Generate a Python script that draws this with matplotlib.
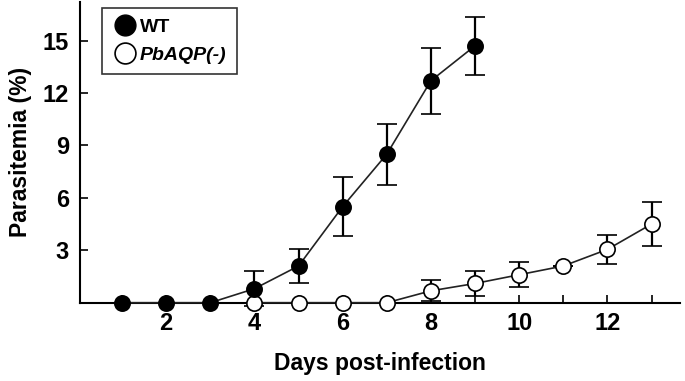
import matplotlib
matplotlib.use("Agg")
import matplotlib.pyplot as plt
from matplotlib.lines import Line2D

plt.rcParams["font.family"] = ["Liberation Sans", "DejaVu Sans"]

# Parasitemia (%) over days post-infection, mean and error
wt_days = [1, 2, 3, 4, 5, 6, 7, 8, 9]
wt_mean = [0, 0, 0, 0.8, 2.1, 5.5, 8.5, 12.7, 14.7]
wt_err = [0, 0, 0, 1.0, 0.95, 1.7, 1.75, 1.9, 1.65]

ko_days = [4, 5, 6, 7, 8, 9, 10, 11, 12, 13]
ko_mean = [0, 0, 0, 0, 0.68, 1.1, 1.6, 2.1, 3.05, 4.5]
ko_err = [0, 0, 0, 0, 0.6, 0.72, 0.72, 0, 0.85, 1.25]

xticks_major = [2, 4, 6, 8, 10, 12]
xticks_all = list(range(1, 14))
yticks = [3, 6, 9, 12, 15]

fig = plt.figure(figsize=(6.85, 3.81), dpi=100)
ax = fig.add_axes([0.117, 0.2055, 0.876, 0.789])

line_kw = dict(color="#222222", lw=1.2, capsize=7, elinewidth=1.6,
               capthick=1.6, ecolor="black", ms=11, mew=1.2, mec="black",
               clip_on=False, zorder=3)
ax.errorbar(ko_days, ko_mean, yerr=ko_err, fmt="-o", mfc="white", **line_kw)
ax.errorbar(wt_days, wt_mean, yerr=wt_err, fmt="-o", mfc="black", **line_kw)

ax.set_xlim(0.05, 13.65)
ax.set_ylim(0, 17.2)
ax.set_xticks(xticks_all)
ax.set_xticklabels([str(d) if d in xticks_major else "" for d in xticks_all])
ax.set_yticks(yticks)
ax.tick_params(direction="in", length=6, width=1.2, labelsize=17)
ax.tick_params(axis="x", pad=7)
ax.tick_params(axis="y", pad=8)
for lbl in ax.get_xticklabels() + ax.get_yticklabels():
    lbl.set_fontweight("bold")

for side in ("top", "right"):
    ax.spines[side].set_visible(False)
for side in ("left", "bottom"):
    ax.spines[side].set_linewidth(1.5)

ax.set_xlabel("Days post-infection", fontsize=16.5, fontweight="bold", labelpad=12)
ax.set_ylabel("Parasitemia (%)", fontsize=16.5, fontweight="bold", labelpad=8)

handles = [
    Line2D([], [], ls="none", marker="o", ms=15, mfc="black", mec="black"),
    Line2D([], [], ls="none", marker="o", ms=15, mfc="white", mec="black", mew=1.2),
]
leg = ax.legend(handles, ["WT", "PbAQP(-)"], loc="upper left",
                bbox_to_anchor=(0.027, 1.0), frameon=True, fancybox=False,
                edgecolor="black", fontsize=14, handletextpad=0.2,
                borderpad=0.55, labelspacing=0.5, handlelength=1.2,
                borderaxespad=0.3)
leg.get_frame().set_linewidth(1.2)
for t in leg.get_texts():
    t.set_fontweight("bold")
leg.get_texts()[1].set_fontstyle("italic")

fig.savefig("out.png", dpi=100)
